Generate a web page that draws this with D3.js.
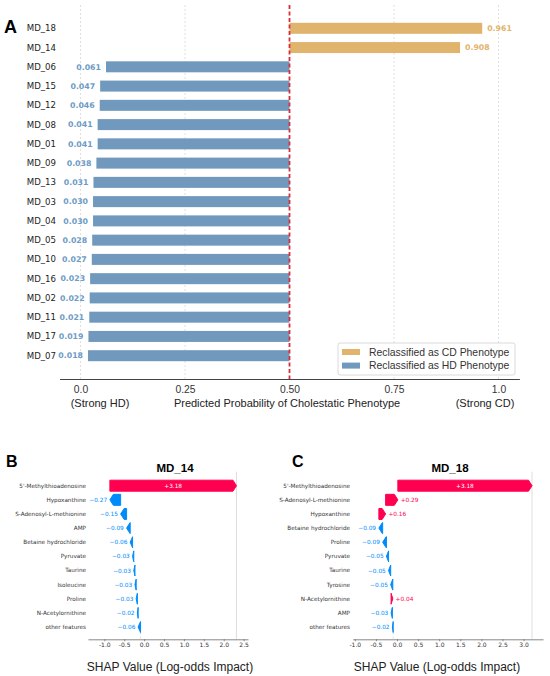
<!DOCTYPE html>
<html>
<head>
<meta charset="utf-8">
<script src="https://cdn.jsdelivr.net/npm/d3@7"></script>
<style>
  body { margin: 0; background: #fff; }
  svg { display: block; }
</style>
</head>
<body>
<svg id="chart" width="550" height="676"></svg>
<script>
// Panel A data
const samplesA = ["MD_18", "MD_14", "MD_06", "MD_15", "MD_12", "MD_08", "MD_01", "MD_09", "MD_13",
  "MD_03", "MD_04", "MD_05", "MD_10", "MD_16", "MD_02", "MD_11", "MD_17", "MD_07"];
const probsA = [0.961, 0.908, 0.061, 0.047, 0.046, 0.041, 0.041, 0.038, 0.031,
  0.030, 0.030, 0.028, 0.027, 0.023, 0.022, 0.021, 0.019, 0.018];
const ticksA = [0, 0.25, 0.5, 0.75, 1.0];
const tickLabelsA = ["0.0", "0.25", "0.50", "0.75", "1.0"];
const legendA = ["Reclassified as CD Phenotype", "Reclassified as HD Phenotype"];

// Panel B / C data (SHAP waterfall)
const featuresB = ["5'-Methylthioadenosine", "Hypoxanthine", "S-Adenosyl-L-methionine", "AMP",
  "Betaine hydrochloride", "Pyruvate", "Taurine", "Isoleucine", "Proline", "N-Acetylornithine", "other features"];
const shapB = [3.18, -0.27, -0.15, -0.09, -0.06, -0.03, -0.03, -0.03, -0.03, -0.02, -0.06];
const featuresC = ["5'-Methylthioadenosine", "S-Adenosyl-L-methionine", "Hypoxanthine", "Betaine hydrochloride",
  "Proline", "Pyruvate", "Taurine", "Tyrosine", "N-Acetylornithine", "AMP", "other features"];
const shapC = [3.18, 0.29, 0.16, -0.09, -0.09, -0.05, -0.05, -0.05, 0.04, -0.03, -0.02];
const baseValue = -0.09;
const shapTicksB = [-1.0, -0.5, 0.0, 0.5, 1.0, 1.5, 2.0, 2.5];
const shapTicksC = [-1.0, -0.5, 0.0, 0.5, 1.0, 1.5, 2.0, 2.5, 3.0];

const COLORS = {
  cd: "#e0b46d",
  hd: "#7199be",
  cdText: "#e2b36a",
  hdText: "#6d9bc5",
  red: "#ff0051",
  blue: "#008bfb",
};

const svg = d3.select("#chart");

//Panel letters
[["A", 4, 33, 18], ["B", 6, 467, 16], ["C", 292, 467, 16]].forEach(([t, x, y, s]) => {
  svg.append("text").attr("x", x).attr("y", y)
    .style("font-family", "Liberation Sans, Arial, sans-serif")
    .style("font-weight", "bold").style("font-size", s + "px").text(t);
});

// ---------- Panel A ----------
const gA = svg.append("g");
const xA = d3.scaleLinear().domain([-0.05, 1.05]).range([59.6, 519.4]);
const yA = d3.scalePoint().domain(samplesA).range([28.3, 355.7]);
const barH = 11;
const topA = 5, axisYA = 379;

//grid
gA.selectAll(".grid").data(ticksA.filter(d => d !== 0.5)).join("line")
  .attr("x1", d => xA(d)).attr("x2", d => xA(d))
  .attr("y1", topA).attr("y2", axisYA)
  .attr("stroke", "#d8d8d8").attr("stroke-width", 0.8).attr("stroke-dasharray", "2,2");

const rowsA = samplesA.map((s, i) => ({ s, p: probsA[i] }));

gA.selectAll(".bar").data(rowsA).join("rect")
  .attr("x", d => xA(Math.min(d.p, 0.5)))
  .attr("width", d => Math.abs(xA(d.p) - xA(0.5)))
  .attr("y", d => yA(d.s) - barH / 2)
  .attr("height", barH)
  .attr("fill", d => d.p > 0.5 ? COLORS.cd : COLORS.hd);

gA.selectAll(".val").data(rowsA).join("text")
  .attr("x", d => d.p > 0.5 ? xA(d.p) + 5 : xA(d.p) - 5)
  .attr("y", d => yA(d.s))
  .attr("dy", "0.35em")
  .attr("text-anchor", d => d.p > 0.5 ? "start" : "end")
  .style("font-family", "DejaVu Sans, sans-serif")
  .style("font-weight", "bold").style("font-size", "7.8px")
  .attr("fill", d => d.p > 0.5 ? COLORS.cdText : COLORS.hdText)
  .text(d => d.p.toFixed(3));

//category labels
gA.selectAll(".cat").data(samplesA).join("text")
  .attr("x", 56).attr("y", d => yA(d)).attr("dy", "0.35em")
  .attr("text-anchor", "end")
  .style("font-family", "DejaVu Sans, sans-serif").style("font-size", "8.6px")
  .attr("fill", "#222").text(d => d);

//threshold line
gA.append("line")
  .attr("x1", xA(0.5)).attr("x2", xA(0.5)).attr("y1", topA).attr("y2", axisYA + 2)
  .attr("stroke", "#d62f3a").attr("stroke-width", 1.8).attr("stroke-dasharray", "4,2.5");

//x axis
const axA = gA.append("g").attr("transform", `translate(0,${axisYA})`)
  .call(d3.axisBottom(xA).tickValues(ticksA).tickFormat((d, i) => tickLabelsA[i]).tickSize(0).tickSizeOuter(0).tickPadding(6.5));
axA.select(".domain").attr("stroke", "#444").attr("stroke-width", 1);
axA.selectAll("text").style("font-family", "Liberation Sans, Arial, sans-serif").style("font-size", "10.3px").attr("fill", "#333");

const subLabel = gA.append("g").style("font-family", "Liberation Sans, Arial, sans-serif").style("font-size", "11px").attr("fill", "#222");
subLabel.append("text").attr("x", 100).attr("y", 407).attr("text-anchor", "middle").text("(Strong HD)");
subLabel.append("text").attr("x", 287).attr("y", 407).attr("text-anchor", "middle").text("Predicted Probability of Cholestatic Phenotype");
subLabel.append("text").attr("x", 485).attr("y", 407).attr("text-anchor", "middle").text("(Strong CD)");

//legend
const leg = gA.append("g").attr("transform", "translate(338,343)");
leg.append("rect").attr("width", 177).attr("height", 32).attr("rx", 2)
  .attr("fill", "#fff").attr("fill-opacity", 0.9).attr("stroke", "#d0d0d0").attr("stroke-width", 0.8);
legendA.forEach((t, i) => {
  leg.append("rect").attr("x", 4).attr("y", 6 + i * 13.6).attr("width", 18).attr("height", 6)
    .attr("fill", i === 0 ? COLORS.cd : COLORS.hd);
  leg.append("text").attr("x", 31).attr("y", 9 + i * 13.6).attr("dy", "0.35em")
    .style("font-family", "Liberation Sans, Arial, sans-serif").style("font-size", "10.4px")
    .attr("fill", "#333").text(t);
});

// ---------- Panels B, C ----------
function waterfall(opt) {
  const g = svg.append("g");
  const x = d3.scaleLinear().domain(opt.domain).range(opt.range);
  const y = d3.scalePoint().domain(d3.range(opt.features.length)).range([485.7, 627]);
  const axisY = 639.3, top = 471.7, h = 11;
  const n = opt.values.length;

  //cumulative from bottom row (base) upward
  const rows = new Array(n);
  let acc = baseValue;
  for (let i = n - 1; i >= 0; i--) {
    rows[i] = { f: opt.features[i], v: opt.values[i], start: acc, end: acc + opt.values[i], i };
    acc += opt.values[i];
  }
  const fx = acc;

  g.append("line").attr("x1", x(fx)).attr("x2", x(fx)).attr("y1", top).attr("y2", axisY)
    .attr("stroke", "#c8c8c8").attr("stroke-width", 0.6);
  g.append("line").attr("x1", x(baseValue)).attr("x2", x(baseValue)).attr("y1", y(n - 1) + h / 2).attr("y2", axisY)
    .attr("stroke", "#bbb").attr("stroke-width", 0.5).attr("stroke-dasharray", "2,2");

  const arrow = d => {
    const xs = x(d.start), xe = x(d.end), yc = y(d.i);
    const dir = xe >= xs ? 1 : -1;
    const hl = Math.min(3.5, Math.abs(xe - xs));
    const xn = xe - dir * hl;
    return `M${xs},${yc - h / 2}L${xn},${yc - h / 2}L${xe},${yc}L${xn},${yc + h / 2}L${xs},${yc + h / 2}Z`;
  };
  g.selectAll(".arr").data(rows).join("path")
    .attr("d", arrow)
    .attr("fill", d => d.v > 0 ? COLORS.red : COLORS.blue)
    .attr("stroke", d => d.v > 0 ? COLORS.red : COLORS.blue)
    .attr("stroke-width", 1).attr("stroke-linejoin", "round");

  const fmt = v => (v > 0 ? "+" : "\u2212") + Math.abs(v).toFixed(2);
  g.selectAll(".lab").data(rows).join("text")
    .attr("x", d => {
      const w = Math.abs(x(d.end) - x(d.start));
      if (w > 30) return (x(d.start) + x(d.end)) / 2;
      return d.v > 0 ? Math.max(x(d.start), x(d.end)) + 2.8 : Math.min(x(d.start), x(d.end)) - 2.8;
    })
    .attr("y", d => y(d.i)).attr("dy", "0.35em")
    .attr("text-anchor", d => Math.abs(x(d.end) - x(d.start)) > 30 ? "middle" : (d.v > 0 ? "start" : "end"))
    .style("font-family", "DejaVu Sans, sans-serif").style("font-size", "5.8px")
    .attr("fill", d => Math.abs(x(d.end) - x(d.start)) > 30 ? "#fff" : (d.v > 0 ? COLORS.red : COLORS.blue))
    .text(d => fmt(d.v));

  g.selectAll(".feat").data(rows).join("text")
    .attr("x", opt.labelX).attr("y", d => y(d.i)).attr("dy", "0.35em").attr("text-anchor", "end")
    .style("font-family", "DejaVu Sans, sans-serif").style("font-size", "5.7px")
    .attr("fill", "#333").text(d => d.f);

  const ax = g.append("g").attr("transform", `translate(0,${axisY})`)
    .call(d3.axisBottom(x).tickValues(opt.ticks).tickFormat(d => d3.format(".1f")(d).replace("\u2212", "-"))
      .tickSize(2).tickSizeOuter(0).tickPadding(1.5));
  ax.select(".domain").attr("stroke", "#555").attr("stroke-width", 0.7);
  ax.selectAll(".tick line").attr("stroke", "#555").attr("stroke-width", 0.6);
  ax.selectAll("text").style("font-family", "DejaVu Sans, sans-serif").style("font-size", "6px").attr("fill", "#333");

  g.append("text").attr("x", opt.titleX).attr("y", 472).attr("text-anchor", "middle")
    .style("font-family", "Liberation Sans, Arial, sans-serif").style("font-weight", "bold").style("font-size", "11.5px")
    .text(opt.title);
  g.append("text").attr("x", opt.xlabelX).attr("y", 671).attr("text-anchor", "middle")
    .style("font-family", "Liberation Sans, Arial, sans-serif").style("font-size", "12px").attr("fill", "#222")
    .text("SHAP Value (Log-odds Impact)");
}

waterfall({ features: featuresB, values: shapB, domain: [-1.41, 2.61], range: [88, 248], ticks: shapTicksB,
  labelX: 86, title: "MD_14", titleX: 175, xlabelX: 170 });
waterfall({ features: featuresC, values: shapC, domain: [-1.05, 3.46], range: [352.7, 543], ticks: shapTicksC,
  labelX: 350, title: "MD_18", titleX: 450, xlabelX: 437 });
</script>
</body>
</html>
